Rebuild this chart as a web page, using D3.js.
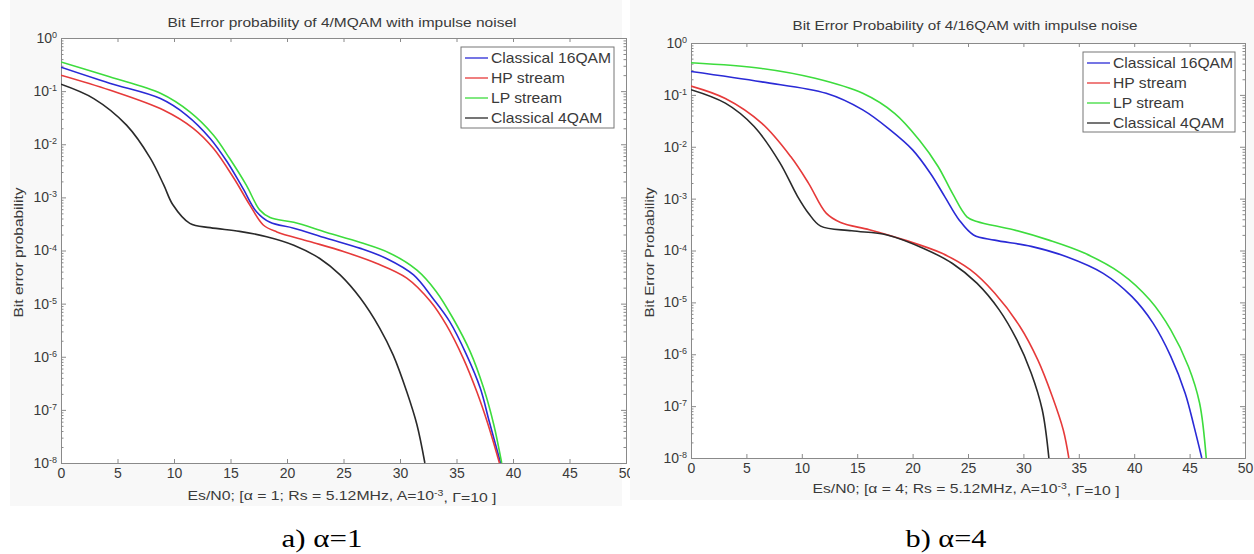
<!DOCTYPE html>
<html>
<head>
<meta charset="utf-8">
<script src="https://cdn.jsdelivr.net/npm/d3@7"></script>
<style>
  body { margin: 0; background: #fff; }
  svg text { font-family: "Liberation Sans", Arial, sans-serif; }
</style>
</head>
<body>
<svg id="chart" width="1254" height="554"></svg>
<script>
// x values (Es/N0, dB) and log10 of the bit error probability

// panel a) alpha = 1
const a16qamX = [0, 4.3, 8.8, 11.1, 13.2, 14.7, 16.1, 17.3, 18.5, 20.6, 23.5, 26.5, 28.8, 31.2, 32.9, 34.4, 35.9, 37.1, 37.9, 38.9];
const a16qamY = [-0.55, -0.85, -1.14, -1.45, -1.89, -2.33, -2.83, -3.27, -3.47, -3.58, -3.77, -3.96, -4.15, -4.46, -4.90, -5.34, -5.97, -6.59, -7.22, -8.0];
const aHpX = [0, 4.3, 9.1, 11.7, 13.5, 15.3, 16.7, 17.9, 19.1, 22.0, 25.0, 27.9, 30.6, 32.7, 34.1, 35.6, 36.8, 37.8, 38.8];
const aHpY = [-0.70, -0.98, -1.36, -1.70, -2.08, -2.64, -3.14, -3.52, -3.65, -3.83, -4.02, -4.24, -4.52, -4.96, -5.40, -6.03, -6.66, -7.28, -8.0];
const aLpX = [0, 4.3, 8.8, 11.4, 13.5, 14.9, 16.4, 17.6, 18.5, 20.6, 23.5, 26.5, 29.1, 31.5, 33.2, 34.7, 36.2, 37.4, 38.3, 39.0];
const aLpY = [-0.45, -0.73, -1.04, -1.39, -1.83, -2.26, -2.77, -3.24, -3.38, -3.47, -3.66, -3.85, -4.05, -4.37, -4.77, -5.28, -5.90, -6.59, -7.28, -8.0];
const a4qamX = [0, 2.9, 5.8, 7.9, 9.1, 9.9, 11.4, 13.2, 15.8, 18.2, 20.6, 22.9, 24.7, 26.5, 28.2, 29.4, 30.6, 31.5, 32.2];
const a4qamY = [-0.87, -1.14, -1.64, -2.26, -2.77, -3.14, -3.49, -3.57, -3.64, -3.74, -3.90, -4.15, -4.46, -4.90, -5.46, -5.97, -6.66, -7.28, -8.0];

// panel b) alpha = 4
const b16qamX = [0, 6.4, 12.2, 15.5, 18.0, 20.0, 21.6, 22.9, 24.2, 25.5, 27.4, 30.7, 33.9, 37.2, 39.8, 41.7, 43.3, 44.6, 45.4, 46.1];
const b16qamY = [-0.55, -0.75, -0.97, -1.29, -1.68, -2.06, -2.51, -2.96, -3.41, -3.70, -3.80, -3.92, -4.12, -4.44, -4.89, -5.40, -6.04, -6.75, -7.39, -8.0];
const bHpX = [0, 3.1, 6.4, 9.0, 10.6, 12.2, 13.5, 16.1, 19.3, 22.6, 25.2, 27.4, 29.7, 31.3, 32.6, 33.6, 34.1];
const bHpY = [-0.83, -1.07, -1.55, -2.19, -2.70, -3.28, -3.46, -3.60, -3.80, -4.05, -4.37, -4.82, -5.47, -6.11, -6.81, -7.46, -8.0];
const bLpX = [0, 6.4, 11.2, 15.5, 18.4, 20.6, 22.3, 23.6, 24.9, 25.8, 29.1, 32.3, 35.5, 38.8, 41.4, 43.3, 44.9, 45.9, 46.5];
const bLpY = [-0.38, -0.49, -0.68, -0.97, -1.36, -1.87, -2.38, -2.90, -3.35, -3.44, -3.60, -3.80, -4.05, -4.44, -4.95, -5.53, -6.24, -6.94, -8.0];
const b4qamX = [0, 3.1, 5.7, 8.0, 9.6, 10.6, 11.7, 14.5, 17.7, 21.0, 23.6, 25.8, 27.8, 29.4, 30.7, 31.7, 32.3];
const b4qamY = [-0.90, -1.16, -1.61, -2.30, -2.95, -3.28, -3.53, -3.62, -3.70, -3.96, -4.25, -4.63, -5.14, -5.72, -6.36, -7.07, -8.0];

const seriesNames = ['Classical 16QAM', 'HP stream', 'LP stream', 'Classical 4QAM'];
const seriesColors = ['#2a2ad6', '#e63a3a', '#3ddc3d', '#2a2a2a'];
const xTicks = [0, 5, 10, 15, 20, 25, 30, 35, 40, 45, 50];
const yExponents = [0, -1, -2, -3, -4, -5, -6, -7, -8];

const svg = d3.select('#chart');

const panels = [
    {
        id: 'a', left: 61, top: 38, right: 626, bottom: 463,
        title: 'Bit Error probability of 4/MQAM with impulse noisel', titleX: 342, titleY: 27, titleW: 349,
        ylabel: 'Bit error probability', ylabelX: 23, ylabelW: 130,
        alpha: 1, xlabelX: 342, xlabelY: 500, xlabelW: 309,
        caption: 'a) α=1', captionX: 322,
        bg: [10, 0, 612, 506],
        legend: { x: 461, y: 47, w: 153, h: 81 },
        series: [[a16qamX, a16qamY], [aHpX, aHpY], [aLpX, aLpY], [a4qamX, a4qamY]]
    },
    {
        id: 'b', left: 691, top: 43, right: 1245, bottom: 458,
        title: 'Bit Error Probability of 4/16QAM with impulse noise', titleX: 965, titleY: 30, titleW: 345,
        ylabel: 'Bit Error Probability', ylabelX: 654, ylabelW: 130,
        alpha: 4, xlabelX: 966, xlabelY: 493, xlabelW: 307,
        caption: 'b) α=4', captionX: 946,
        bg: [630, 0, 624, 500],
        legend: { x: 1083, y: 52, w: 152, h: 80 },
        series: [[b16qamX, b16qamY], [bHpX, bHpY], [bLpX, bLpY], [b4qamX, b4qamY]]
    }
];

function superscriptLabels(sel) {
    sel.selectAll('.tick text').each(function (d) {
        const t = d3.select(this).text('');
        t.append('tspan').text('10');
        t.append('tspan').attr('dy', '-0.55em').attr('font-size', '9px')
            .text(Math.round(Math.log10(d)));
    });
}

function stretch(sel, factor) {
    sel.each(function () {
        const w = this.getComputedTextLength();
        d3.select(this).attr('textLength', w * factor).attr('lengthAdjust', 'spacingAndGlyphs');
    });
}

function drawPanel(p) {
    const x = d3.scaleLinear().domain([0, 50]).range([p.left, p.right]);
    const y = d3.scaleLog().domain([1e-8, 1]).range([p.bottom, p.top]);

    svg.append('rect')
        .attr('x', p.bg[0]).attr('y', p.bg[1]).attr('width', p.bg[2]).attr('height', p.bg[3])
        .attr('fill', '#f8f8f8');
    svg.append('rect')
        .attr('x', p.left).attr('y', p.top)
        .attr('width', p.right - p.left).attr('height', p.bottom - p.top)
        .attr('fill', '#fff');

    const majors = yExponents.map(e => Math.pow(10, e));
    const minors = [];
    yExponents.slice(1).forEach(e => {
        for (let m = 2; m <= 9; m++) minors.push(m * Math.pow(10, e));
    });

    const axes = svg.append('g');
    // bottom axis
    axes.append('g').attr('transform', `translate(0,${p.bottom})`)
        .call(d3.axisBottom(x).tickValues(xTicks).tickSize(-4).tickPadding(5).tickFormat(d3.format('d')));
    // top axis
    axes.append('g').attr('transform', `translate(0,${p.top})`)
        .call(d3.axisTop(x).tickValues(xTicks).tickSize(-4).tickFormat(''));
    // left axis
    const gy = axes.append('g').attr('transform', `translate(${p.left},0)`)
        .call(d3.axisLeft(y).tickValues(majors).tickSize(-5).tickPadding(4));
    axes.append('g').attr('transform', `translate(${p.left},0)`)
        .call(d3.axisLeft(y).tickValues(minors).tickSize(-2.5).tickFormat(''));
    // right axis
    axes.append('g').attr('transform', `translate(${p.right},0)`)
        .call(d3.axisRight(y).tickValues(majors).tickSize(-5).tickFormat(''));
    axes.append('g').attr('transform', `translate(${p.right},0)`)
        .call(d3.axisRight(y).tickValues(minors).tickSize(-2.5).tickFormat(''));

    axes.selectAll('.domain, .tick line').attr('stroke', '#8a8a8a');
    axes.selectAll('.tick text').attr('fill', '#3a3a3a').attr('font-size', '14px')
        .attr('font-family', '"Liberation Sans", Arial, sans-serif');
    superscriptLabels(gy);

    // curves
    svg.append('clipPath').attr('id', 'clip-' + p.id)
        .append('rect').attr('x', p.left).attr('y', p.top)
        .attr('width', p.right - p.left).attr('height', p.bottom - p.top + 1);

    const line = d3.line()
        .x(d => x(d[0]))
        .y(d => y(Math.pow(10, d[1])))
        .curve(d3.curveCatmullRom.alpha(0.5));

    const plot = svg.append('g').attr('clip-path', `url(#clip-${p.id})`);
    p.series.forEach((s, i) => {
        const pts = s[0].map((v, k) => [v, s[1][k]]);
        plot.append('path').datum(pts)
            .attr('d', line)
            .attr('fill', 'none')
            .attr('stroke', seriesColors[i])
            .attr('stroke-width', 1.6);
    });

    // texts
    svg.append('text').attr('x', p.titleX).attr('y', p.titleY)
        .attr('text-anchor', 'middle').attr('font-size', '13px').attr('fill', '#3a3a3a')
        .attr('textLength', p.titleW).attr('lengthAdjust', 'spacingAndGlyphs')
        .text(p.title);

    svg.append('text')
        .attr('transform', `translate(${p.ylabelX},${(p.top + p.bottom) / 2 + 2}) rotate(-90)`)
        .attr('text-anchor', 'middle').attr('font-size', '13px').attr('fill', '#3a3a3a')
        .attr('textLength', p.ylabelW).attr('lengthAdjust', 'spacingAndGlyphs')
        .text(p.ylabel);

    const xl = svg.append('text').attr('x', p.xlabelX).attr('y', p.xlabelY)
        .attr('text-anchor', 'middle').attr('font-size', '13.5px').attr('fill', '#3a3a3a')
        .attr('textLength', p.xlabelW).attr('lengthAdjust', 'spacingAndGlyphs');
    xl.append('tspan').text(`Es/N0; [α = ${p.alpha}; Rs = 5.12MHz, A=10`);
    xl.append('tspan').attr('dy', '-0.5em').attr('font-size', '9px').text('-3');
    xl.append('tspan').attr('dy', '0.5em').text(', Γ=10 ]');

    svg.append('text').attr('x', p.captionX).attr('y', 547)
        .attr('text-anchor', 'middle').attr('font-size', '26px').attr('fill', '#000')
        .style('font-family', '"Liberation Serif", "DejaVu Serif", serif')
        .attr('textLength', 81).attr('lengthAdjust', 'spacingAndGlyphs')
        .text(p.caption);

    // legend
    const L = p.legend;
    const lg = svg.append('g');
    lg.append('rect').attr('x', L.x).attr('y', L.y).attr('width', L.w).attr('height', L.h)
        .attr('fill', '#fff').attr('stroke', '#777').attr('stroke-width', 1);
    seriesNames.forEach((name, i) => {
        const cy = L.y + 11 + i * 20;
        lg.append('line').attr('x1', L.x + 4).attr('x2', L.x + 27)
            .attr('y1', cy).attr('y2', cy)
            .attr('stroke', seriesColors[i]).attr('stroke-width', 1.3);
        lg.append('text').attr('x', L.x + 30).attr('y', cy).attr('dy', '0.35em')
            .attr('font-size', '14.5px').attr('fill', '#3a3a3a').text(name)
            .call(stretch, 1.08);
    });
}

panels.forEach(drawPanel);
</script>
</body>
</html>
